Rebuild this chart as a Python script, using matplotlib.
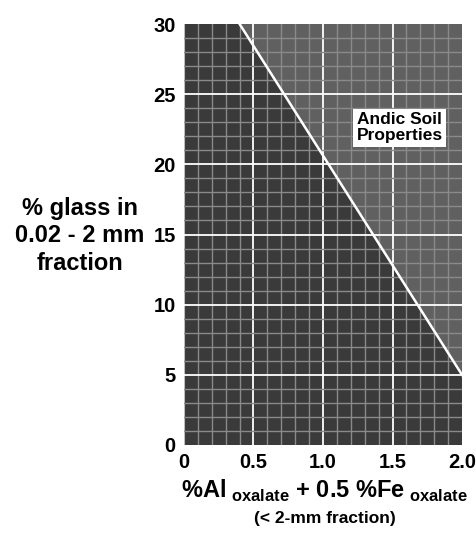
import numpy as np
import matplotlib.pyplot as plt

plt.rcParams['font.family'] = ['Liberation Sans', 'DejaVu Sans']
plt.rcParams['mathtext.fontset'] = 'custom'
plt.rcParams['mathtext.rm'] = 'Liberation Sans:bold'
plt.rcParams['mathtext.bf'] = 'Liberation Sans:bold'

# boundary of andic soil properties
line_x = [0.4, 2.0]
line_y = [30, 5]
x_ticks = [0, 0.5, 1.0, 1.5, 2.0]
x_labels = ['0', '0.5', '1.0', '1.5', '2.0']
y_ticks = [0, 5, 10, 15, 20, 25, 30]

fig = plt.figure(figsize=(4.77, 5.34), dpi=100)
ax = fig.add_axes([184 / 477, 89 / 534, 278 / 477, 421 / 534])

ax.set_xlim(0, 2.0)
ax.set_ylim(0, 30)
ax.set_facecolor('#3a3a3a')

# lighter region above the line
ax.fill([line_x[0], line_x[1], 2.0, 2.0], [line_y[0], line_y[1], 30, 30],
        color='#606060', zorder=0)

for xv in np.arange(0.1, 1.96, 0.1):
    major = abs(xv * 2 - round(xv * 2)) < 1e-6
    ax.axvline(xv, color='#ffffff' if major else '#8a8a8a',
               lw=1.3 if major else 1.0, zorder=1)
ax.axvline(0, color='#bdbdbd', lw=1.5, zorder=1)
for yv in range(1, 30):
    major = yv % 5 == 0
    ax.axhline(yv, color='#ffffff' if major else '#8a8a8a',
               lw=1.3 if major else 1.0, zorder=1)

ax.plot(line_x, line_y, color='white', lw=1.8, zorder=3)

ax.text(1.55, 22.6, 'Andic Soil\nProperties', ha='center', va='center',
        fontsize=12.5, fontweight='bold', linespacing=1.1, zorder=4,
        bbox=dict(facecolor='white', edgecolor='none', pad=2.5))

for s in ax.spines.values():
    s.set_visible(False)

ax.set_xticks(x_ticks)
ax.set_xticklabels(x_labels)
ax.set_yticks(y_ticks)
ax.tick_params(length=0, labelsize=14.5, pad=6)
for lab in ax.get_xticklabels() + ax.get_yticklabels():
    lab.set_fontweight('bold')

fig.text(324 / 477, 1 - 491 / 534,
         r'%Al$_{\rm\ oxalate}$ + 0.5 %Fe$_{\rm\ oxalate}$',
         ha='center', va='center', fontsize=17, fontweight='bold')
fig.text(325 / 477, 1 - 518 / 534, '(< 2-mm fraction)',
         ha='center', va='center', fontsize=12.5, fontweight='bold')
fig.text(80 / 477, 1 - 236 / 534, '% glass in\n0.02 - 2 mm\nfraction',
         ha='center', va='center', fontsize=17, fontweight='bold',
         linespacing=1.25)

fig.savefig('out.png', dpi=100, facecolor='white')
